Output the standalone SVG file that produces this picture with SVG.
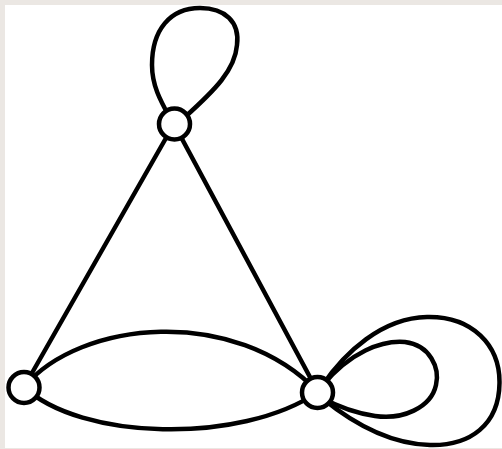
<svg xmlns="http://www.w3.org/2000/svg" width="502" height="449" viewBox="0 0 502 449">
<style>
.e{fill:none;stroke:#000;stroke-width:4.5;stroke-linecap:round}
.n{fill:#fff;stroke:#000;stroke-width:4.5}
</style>
<rect x="0" y="0" width="502" height="449" fill="#ebe7e3"/>
<rect x="5" y="5" width="497" height="443" fill="#fff"/>
<g id="connectors">
<path class="e" d="M174,124 L24,387"/>
<path class="e" d="M174,124 L318,392"/>
<path class="e" d="M24,387 C80,320 235,305 318,392"/>
<path class="e" d="M24,387 C80,440 240,445 318,392"/>
<path class="e" d="M170,118 C160,100 152,85 152,65 C152,30 170,8 200,8 C225,8 240,22 237,45 C235,70 215,90 185,117"/>
<path class="e" d="M322,386 C350,352 382,340 405,342 C430,345 440,368 436,385 C431,408 402,420 375,416 C355,413 335,405 322,398"/>
<path class="e" d="M322,386 C345,352 382,318 427,317 C472,316 500,345 499.5,383 C499,425 470,446 430,445 C390,444 355,425 322,398"/>
</g>
<g id="node-top"><circle class="n" cx="174.5" cy="124" r="15.5"/></g>
<g id="node-left"><circle class="n" cx="24" cy="387.5" r="15.5"/></g>
<g id="node-right"><circle class="n" cx="317.5" cy="392.5" r="15.5"/></g>
</svg>
